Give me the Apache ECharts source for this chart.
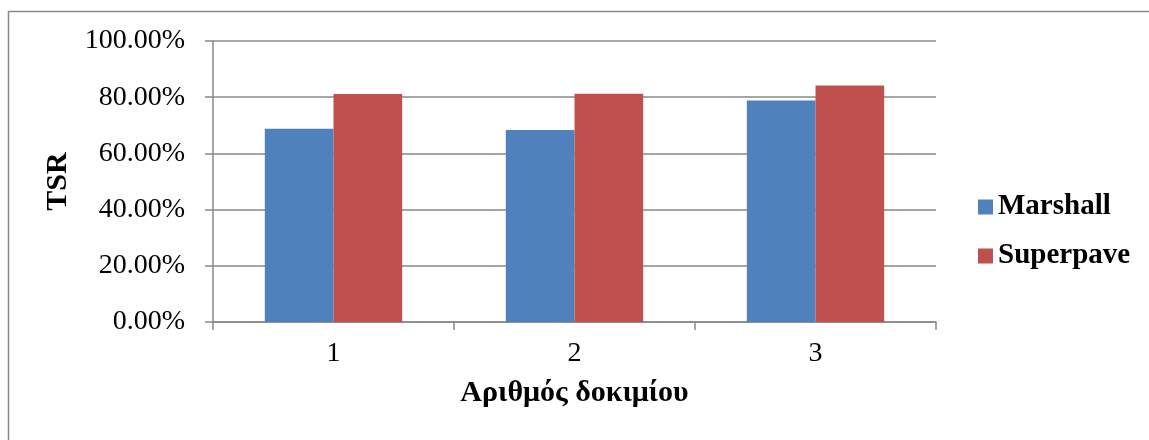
<!DOCTYPE html>
<html>
<head>
<meta charset="utf-8">
<script src="https://cdn.jsdelivr.net/npm/echarts@6/dist/echarts.min.js"></script>
<style>
html,body{margin:0;padding:0;background:#fff;}
#chart{width:1149px;height:440px;}
</style>
</head>
<body>
<div id="chart"></div>
<script>
const categories = ['1', '2', '3'];
const marshall = [68.8, 68.3, 78.8];
const superpave = [81.1, 81.2, 84.2];
const seriesNames = ['Marshall', 'Superpave'];
const xTitle = 'Αριθμός δοκιμίου';
const yTitle = 'TSR';

const FONT = '"Liberation Serif", "Times New Roman", serif';
const chart = echarts.init(document.getElementById('chart'));
chart.setOption({
  animation: false,
  backgroundColor: '#fff',
  graphic: [{
    type: 'rect',
    shape: {x: 8.5, y: 11.5, width: 1300, height: 600},
    style: {fill: 'none', stroke: '#888', lineWidth: 1.5},
    z: -1
  }],
  grid: {left: 213, right: 213, top: 41, bottom: 118},
  legend: {
    orient: 'vertical',
    left: 978,
    top: 192,
    padding: 0,
    itemWidth: 15,
    itemHeight: 15,
    itemGap: 19,
    icon: 'rect',
    data: seriesNames,
    textStyle: {fontFamily: FONT, fontSize: 29, fontWeight: 'bold', color: '#000', lineHeight: 30}
  },
  xAxis: {
    type: 'category',
    data: categories,
    name: xTitle,
    nameLocation: 'middle',
    nameGap: 56,
    nameTextStyle: {fontFamily: FONT, fontSize: 30, fontWeight: 'bold', color: '#000'},
    axisLine: {lineStyle: {color: '#888', width: 1.5}},
    axisTick: {show: true, length: 8, lineStyle: {color: '#888', width: 1.5}},
    axisLabel: {fontFamily: FONT, fontSize: 28, color: '#000', margin: 18}
  },
  yAxis: {
    type: 'value',
    min: 0,
    max: 100,
    interval: 20,
    name: yTitle,
    nameLocation: 'middle',
    nameGap: 140,
    nameTextStyle: {fontFamily: FONT, fontSize: 30, fontWeight: 'bold', color: '#000'},
    axisLine: {show: true, lineStyle: {color: '#888', width: 1.5}},
    axisTick: {show: true, length: 8, lineStyle: {color: '#888', width: 1.5}},
    splitLine: {lineStyle: {color: '#888', width: 1.5}},
    axisLabel: {fontFamily: FONT, fontSize: 28, color: '#000', margin: 28,
      formatter: v => v.toFixed(2) + '%'}
  },
  series: [
    {name: seriesNames[0], type: 'bar', data: marshall, barGap: '0%', barCategoryGap: '43%',
     itemStyle: {color: '#4F81BD'}},
    {name: seriesNames[1], type: 'bar', data: superpave, barGap: '0%', barCategoryGap: '43%',
     itemStyle: {color: '#C0504D'}}
  ]
});
</script>
</body>
</html>
